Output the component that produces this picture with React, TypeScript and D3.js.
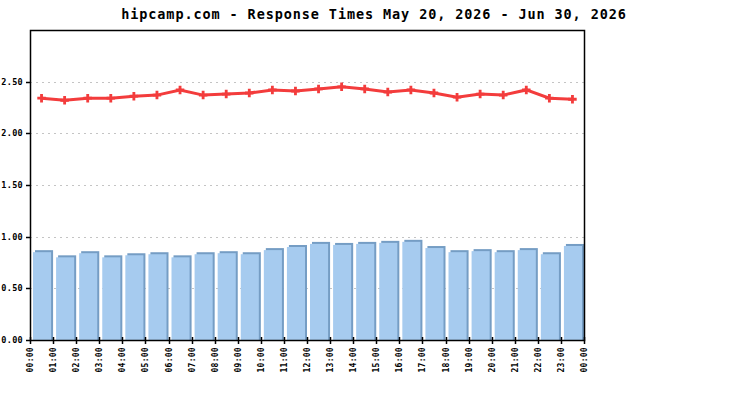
import React from 'react';
import * as d3 from 'd3';

const hours = d3.range(24).map(h => `${String(h).padStart(2, '0')}:00`);
const tickLabels = [...hours, '00:00'];
const barValues = [0.85, 0.80, 0.84, 0.80, 0.82, 0.83, 0.80, 0.83, 0.84, 0.83, 0.87, 0.90,
  0.93, 0.92, 0.93, 0.94, 0.95, 0.89, 0.85, 0.86, 0.85, 0.87, 0.83, 0.91];
const lineValues = [2.34, 2.32, 2.34, 2.34, 2.36, 2.37, 2.42, 2.37, 2.38, 2.39, 2.42, 2.41,
  2.43, 2.45, 2.43, 2.40, 2.42, 2.39, 2.35, 2.38, 2.37, 2.42, 2.34, 2.33];
const yTicks = [0, 0.5, 1, 1.5, 2, 2.5];
const title = 'hipcamp.com - Response Times May 20, 2026 - Jun 30, 2026';

const W = 750;
const H = 400;
const margin = { top: 30, right: 166, bottom: 60, left: 30 };
const mono = '"DejaVu Sans Mono", "Liberation Mono", monospace';

export default function App() {
  const x0 = margin.left;
  const x1 = W - margin.right;
  const y0 = H - margin.bottom;
  const y1 = margin.top;

  const x = d3.scaleBand<string>().domain(hours).range([x0, x1]);
  const xTick = d3.scaleLinear().domain([0, 24]).range([x0, x1]);
  const y = d3.scaleLinear().domain([0, 3]).range([y0, y1]);

  const line = d3.line<number>()
    .x((_, i) => (x(hours[i]) ?? 0) + x.bandwidth() / 2)
    .y(d => y(d));
  const marker = d3.symbol().type(d3.symbolCross).size(40)();

  return (
    <svg width={W} height={H} style={{ position: 'absolute', left: 0, top: 0, background: '#fff' }}>
      <text x={374} y={19} textAnchor="middle" fontFamily={mono} fontWeight="bold" fontSize={13.5}
        letterSpacing={0.9}>{title}</text>

      {/* grid */}
      {yTicks.filter(t => t > 0).map(t => (
        <line key={t} x1={x0} x2={x1} y1={Math.round(y(t)) + 0.5} y2={Math.round(y(t)) + 0.5}
          stroke="#c4c4c4" strokeDasharray="2 4" />
      ))}

      {/* bars */}
      {barValues.map((v, i) => {
        const bx = (x(hours[i]) ?? 0) + 3;
        const by = y(v);
        const bw = x.bandwidth() - 5;
        return (
          <g key={i}>
            <rect x={bx + 2} y={by - 2} width={bw} height={y0 - by + 2} fill="#759dc4" />
            <rect x={bx} y={by} width={bw} height={y0 - by} fill="#a6cbef" />
          </g>
        );
      })}

      {/* line */}
      <path d={line(lineValues) ?? ''} fill="none" stroke="#f33c3c" strokeWidth={3} />
      {lineValues.map((v, i) => (
        <path key={i} d={marker}
          transform={`translate(${(x(hours[i]) ?? 0) + x.bandwidth() / 2},${y(v)})`} fill="#f33c3c" />
      ))}

      {/* frame */}
      <rect x={x0 + 0.5} y={y1 + 0.5} width={x1 - x0} height={y0 - y1} fill="none" stroke="#000" strokeWidth={1.5} />

      {/* y axis */}
      {yTicks.map(t => (
        <g key={t} transform={`translate(0,${Math.round(y(t)) + 0.5})`}>
          <line x1={x0 - 4} x2={x0} stroke="#000" strokeWidth={1.5} />
          <text x={x0 - 7} dy="0.35em" textAnchor="end" fontFamily={mono} fontWeight="bold"
            fontSize={8.5} letterSpacing={0.3}>{t.toFixed(2)}</text>
        </g>
      ))}

      {/* x axis */}
      {tickLabels.map((lab, i) => (
        <g key={i} transform={`translate(${Math.round(xTick(i)) + 0.5},${y0})`}>
          <line y1={-3} y2={4} stroke="#000" strokeWidth={1.5} />
          <text transform="translate(0,7) rotate(-90)" dy="0.35em" textAnchor="end" fontFamily={mono}
            fontWeight="bold" fontSize={8} letterSpacing={0.3}>{lab}</text>
        </g>
      ))}
    </svg>
  );
}
